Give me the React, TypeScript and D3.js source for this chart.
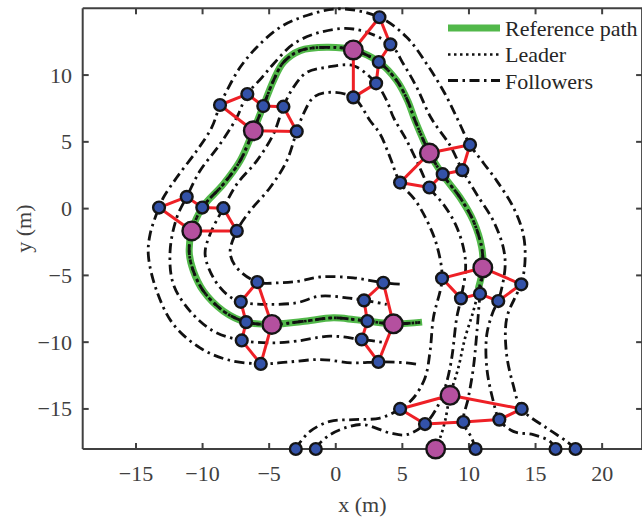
import React from 'react';
import * as d3 from 'd3';

const W = 642;
const H = 519;
const X_DOMAIN = [-19, 23];
const Y_DOMAIN = [-18, 15];
const X_TICKS = [-15, -10, -5, 0, 5, 10, 15, 20];
const Y_TICKS = [-15, -10, -5, 0, 5, 10];

// Reference path (green)
const refPath: number[][] = [
  [10.7, -6.0], [11.04, -4.43], [10.96, -2.93], [10.33, -0.92], [9.33, 0.83], [8.03, 2.53],
  [7.03, 4.18], [5.96, 6.58], [5.4, 8.08], [4.58, 9.58], [3.23, 10.98], [1.32, 11.88],
  [-0.68, 12.08], [-2.68, 11.83], [-3.93, 10.95], [-4.68, 9.58], [-5.44, 7.68], [-6.19, 5.83],
  [-7.18, 3.58], [-8.44, 1.83], [-10.02, 0.08], [-10.81, -1.67], [-11.0, -3.3], [-10.69, -4.67],
  [-9.94, -6.17], [-8.44, -7.67], [-6.73, -8.5], [-4.8, -8.67], [-2.5, -8.45], [-0.18, -8.18],
  [1.32, -8.3], [2.37, -8.42], [4.33, -8.63], [6.48, -8.5],
];

// Leader approach before joining the reference path
const leaderApproach: number[][] = [
  [7.5, -18], [7.83, -17.18], [8.2, -15.93], [8.58, -13.98], [9.2, -11.93], [9.71, -9.68],
  [10.33, -7.67], [10.75, -6.0],
];

// Follower trajectories
const pathA: number[][] = [
  [-3, -18], [-2.81, -17.68], [-1.93, -16.68], [-0.43, -15.93], [1.32, -15.8], [3.33, -15.68],
  [4.83, -15.0], [5.83, -14.18], [6.7, -12.68], [7.08, -10.68], [7.33, -8.18], [7.98, -5.22],
  [7.6, -2.8], [6.93, -1.07], [6.0, 0.58], [4.83, 1.95], [4.08, 3.83], [3.33, 5.58], [2.58, 6.58],
  [1.32, 8.33], [-0.68, 8.7], [-1.68, 8.33], [-2.43, 7.08], [-2.93, 5.78], [-3.68, 3.58],
  [-4.93, 1.58], [-6.43, -0.17], [-7.43, -1.67], [-7.93, -3.3], [-7.43, -4.43], [-5.89, -5.5],
  [-4.18, -5.55], [-2.68, -5.42], [-1.18, -5.12], [1.32, -5.18], [3.57, -5.55], [5.08, -5.67],
];
const pathB: number[][] = [
  [-1.5, -18], [-1.31, -17.68], [-0.43, -16.93], [0.83, -16.38], [2.07, -16.17], [4.08, -16.8],
  [5.33, -16.93], [6.7, -16.13], [7.58, -14.93], [8.2, -13.43], [8.6, -11.8], [8.78, -10.68],
  [9.08, -8.18], [9.4, -6.72], [9.75, -4.5], [9.6, -3.0], [9.0, -1.2], [8.1, 0.3], [7.03, 1.58],
  [6.08, 3.58], [5.2, 5.33], [4.33, 6.83], [3.83, 8.08], [3.03, 9.38], [1.32, 10.7], [-0.68, 10.58],
  [-2.18, 10.2], [-3.18, 9.08], [-3.93, 7.63], [-4.68, 5.58], [-5.93, 3.58], [-7.43, 1.83],
  [-8.44, 0.03], [-9.44, -1.92], [-9.81, -3.4], [-9.19, -5.18], [-8.18, -6.42], [-7.13, -6.98],
  [-5.18, -7.17], [-2.93, -7.05], [-1.18, -6.55], [0.83, -6.68], [2.12, -6.87], [3.83, -7.17],
];
const pathCApproach: number[][] = [
  [10.5, -18], [10.21, -17.18], [9.58, -15.98], [9.95, -14.18], [10.33, -11.93], [10.58, -9.43],
  [10.83, -6.38],
];
const pathD: number[][] = [
  [16.5, -18], [16.09, -17.43], [14.83, -16.93], [13.33, -16.68], [12.28, -15.8], [11.83, -14.43],
  [11.34, -11.93], [11.34, -9.43], [11.83, -7.67], [12.2, -6.92], [12.71, -4.43], [12.58, -2.93],
  [11.83, -0.92], [10.58, 1.08], [9.5, 2.88], [8.6, 4.7], [7.15, 6.8], [6.08, 9.08], [5.08, 10.83],
  [4.1, 12.3], [1.32, 13.45], [-1.18, 13.2], [-3.18, 12.33], [-4.68, 10.83], [-5.6, 9.75],
  [-6.64, 8.58], [-7.43, 6.83], [-8.69, 4.83], [-10.19, 2.83], [-11.19, 0.88], [-11.94, -0.68],
  [-12.44, -3.2], [-12.19, -5.67], [-10.94, -7.67], [-9.19, -9.17], [-7.06, -9.87], [-4.68, -10.05],
  [-2.93, -9.92], [-0.43, -9.55], [1.95, -9.8], [3.83, -10.05],
];
const pathE: number[][] = [
  [18, -18], [17.34, -17.43], [15.84, -16.43], [13.96, -15.0], [13.31, -13.16], [12.8, -10.68],
  [12.84, -8.18], [13.59, -6.4], [13.93, -5.67], [14.21, -3.92], [14.08, -1.92], [13.34, 0.08],
  [12.09, 2.08], [11.1, 3.4], [10.08, 4.78], [9.2, 6.58], [8.2, 8.6], [6.83, 10.83], [5.33, 12.83],
  [3.28, 14.33], [0.32, 14.96], [-2.18, 14.46], [-4.18, 13.58], [-5.93, 12.08], [-7.18, 10.58],
  [-8.18, 8.83], [-8.69, 7.76], [-9.31, 6.08], [-10.44, 4.33], [-11.94, 2.33], [-12.94, 0.83],
  [-13.27, 0.08], [-13.94, -1.92], [-14.07, -3.5], [-13.44, -6.17], [-12.19, -8.67], [-10.19, -10.43],
  [-8.18, -11.3], [-5.63, -11.63], [-3.68, -11.5], [-1.18, -11.3], [1.32, -11.55], [3.2, -11.48],
  [5.33, -11.55], [6.08, -11.65],
];

// Formation snapshots (index 0 = initial positions, no links)
const leaderNodes: number[][] = [
  [7.5, -18], [8.58, -13.98], [11.04, -4.43], [7.03, 4.16], [1.32, 11.88], [-6.19, 5.83],
  [-10.81, -1.67], [-4.8, -8.67], [4.33, -8.63],
];
const nodesA: number[][] = [
  [-3, -18], [4.83, -15.0], [7.98, -5.22], [4.83, 1.95], [1.32, 8.33], [-2.93, 5.78],
  [-7.43, -1.67], [-5.89, -5.5], [3.57, -5.55],
];
const nodesB: number[][] = [
  [-1.5, -18], [6.7, -16.13], [9.4, -6.72], [7.03, 1.58], [3.03, 9.38], [-3.93, 7.63],
  [-8.44, 0.03], [-7.13, -6.98], [2.12, -6.87],
];
const nodesC: number[][] = [
  [10.5, -18], [9.58, -15.98], [10.83, -6.38], [8.03, 2.58], [3.23, 10.98], [-5.44, 7.68],
  [-10.02, 0.08], [-6.73, -8.5], [2.37, -8.42],
];
const nodesD: number[][] = [
  [16.5, -18], [12.28, -15.8], [12.2, -6.92], [9.5, 2.88], [4.1, 12.3], [-6.64, 8.58],
  [-11.19, 0.88], [-7.06, -9.87], [1.95, -9.8],
];
const nodesE: number[][] = [
  [18, -18], [13.96, -15.0], [13.93, -5.67], [10.08, 4.78], [3.28, 14.33], [-8.69, 7.76],
  [-13.27, 0.08], [-5.63, -11.63], [3.2, -11.48],
];

const LEGEND = ['Reference path', 'Leader', 'Followers'];

const FONT = '"Liberation Serif", "Times New Roman", serif';
const AX = '#404040';
const GREEN = '#52b84a';
const RED = '#ee2026';
const BLUE = '#3352a8';
const PINK = '#b4509f';
const DASHDOT = '10,4.5,2.5,4.5';
const DOT = '2.5,3.5';

export default function App() {
  const x = d3.scaleLinear().domain(X_DOMAIN).range([82.7, 642.1]);
  const y = d3.scaleLinear().domain(Y_DOMAIN).range([449, 8.3]);
  const line = d3
    .line<number[]>()
    .x((d) => x(d[0]))
    .y((d) => y(d[1]))
    .curve(d3.curveCatmullRom.alpha(0.5));

  const leaderPath = [...leaderApproach, ...refPath.slice(1)];
  const pathC = [...pathCApproach, ...refPath.slice(1)];
  const followers = [pathA, pathB, pathC, pathD, pathE];

  const [x0, x1] = x.range();
  const [y0, y1] = y.range(); // y0 bottom, y1 top

  const edges: number[][][] = [];
  for (let i = 1; i < leaderNodes.length; i++) {
    const ring = [leaderNodes[i], nodesA[i], nodesB[i], nodesC[i], nodesD[i], nodesE[i]];
    for (let k = 0; k < ring.length; k++) edges.push([ring[k], ring[(k + 1) % ring.length]]);
  }
  const blues = [...nodesA, ...nodesB, ...nodesC, ...nodesD, ...nodesE];

  return (
    <svg width={W} height={H} style={{ position: 'absolute', left: 0, top: 0, background: '#fff' }}>
      {/* axes box */}
      <g stroke={AX} strokeWidth={2} fill="none">
        <line x1={x0} y1={y0} x2={x1} y2={y0} />
        <line x1={x0} y1={y1} x2={x1} y2={y1} />
        <line x1={x0} y1={y0} x2={x0} y2={y1} />
        <line x1={x1} y1={y0} x2={x1} y2={y1} />
        {X_TICKS.map((t) => (
          <g key={'xt' + t}>
            <line x1={x(t)} x2={x(t)} y1={y0} y2={y0 - 6} />
            <line x1={x(t)} x2={x(t)} y1={y1} y2={y1 + 6} />
          </g>
        ))}
        {Y_TICKS.map((t) => (
          <g key={'yt' + t}>
            <line x1={x0} x2={x0 + 6} y1={y(t)} y2={y(t)} />
            <line x1={x1} x2={x1 - 6} y1={y(t)} y2={y(t)} />
          </g>
        ))}
      </g>
      <g fontFamily={FONT} fontSize={22} fill={AX}>
        {X_TICKS.map((t) => (
          <text key={'xl' + t} x={x(t)} y={481} textAnchor="middle">
            {t < 0 ? '\u2212' + Math.abs(t) : String(t)}
          </text>
        ))}
        {Y_TICKS.map((t) => (
          <text key={'yl' + t} x={72} y={y(t) + 7.5} textAnchor="end">
            {t < 0 ? '\u2212' + Math.abs(t) : String(t)}
          </text>
        ))}
        <text x={(x0 + x1) / 2} y={512} textAnchor="middle">x (m)</text>
        <text transform={`translate(31,${(y0 + y1) / 2}) rotate(-90)`} textAnchor="middle">y (m)</text>
      </g>

      {/* reference path */}
      <path d={line(refPath) || ''} fill="none" stroke={GREEN} strokeWidth={7} strokeLinejoin="round" />
      {/* leader */}
      <path d={line(leaderPath) || ''} fill="none" stroke="#111" strokeWidth={2.7} strokeDasharray={DOT} />
      {/* followers */}
      {followers.map((p, i) => (
        <path key={'f' + i} d={line(p) || ''} fill="none" stroke="#111" strokeWidth={2.8} strokeDasharray={DASHDOT} />
      ))}
      {/* formation links */}
      <g stroke={RED} strokeWidth={3}>
        {edges.map((e, i) => (
          <line key={'e' + i} x1={x(e[0][0])} y1={y(e[0][1])} x2={x(e[1][0])} y2={y(e[1][1])} />
        ))}
      </g>
      {/* nodes */}
      <g stroke="#151515" strokeWidth={2.4}>
        {blues.map((n, i) => (
          <circle key={'b' + i} cx={x(n[0])} cy={y(n[1])} r={5.9} fill={BLUE} />
        ))}
        {leaderNodes.map((n, i) => (
          <circle key={'l' + i} cx={x(n[0])} cy={y(n[1])} r={9.3} fill={PINK} />
        ))}
      </g>

      {/* legend */}
      <g>
        <line x1={448} x2={500} y1={28} y2={28} stroke={GREEN} strokeWidth={7} />
        <line x1={448} x2={500} y1={54.5} y2={54.5} stroke="#111" strokeWidth={2.7} strokeDasharray={DOT} />
        <line x1={448} x2={500} y1={80.5} y2={80.5} stroke="#111" strokeWidth={2.8} strokeDasharray={DASHDOT} />
        {LEGEND.map((s, i) => (
          <text key={s} x={505} y={35.5 + i * 26.5} fontFamily={FONT} fontSize={22} fill="#262626">
            {s}
          </text>
        ))}
      </g>
    </svg>
  );
}
